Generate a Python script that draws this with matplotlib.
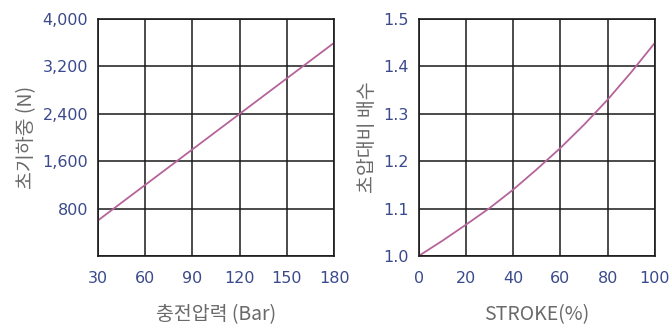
import matplotlib
matplotlib.use("Agg")
import matplotlib.pyplot as plt

plt.rcParams['font.family'] = 'DejaVu Sans'

# left chart: charging pressure vs initial load
pressure = [30, 60, 90, 120, 150, 180]
load = [600, 1200, 1800, 2400, 3000, 3600]
load_ticks = [800, 1600, 2400, 3200, 4000]
load_labels = ["800", "1,600", "2,400", "3,200", "4,000"]

# right chart: stroke vs pressure ratio
stroke = [0, 10, 20, 30, 40, 50, 60, 70, 80, 90, 100]
ratio = [1.0, 1.032, 1.066, 1.101, 1.14, 1.183, 1.228, 1.277, 1.33, 1.388, 1.45]
ratio_ticks = [1.0, 1.1, 1.2, 1.3, 1.4, 1.5]
stroke_ticks = [0, 20, 40, 60, 80, 100]

LINE = "#b5649a"
TICK = "#3b4a8c"
LABEL = "#6a6a6a"
KR = ['Noto Sans CJK KR', 'DejaVu Sans']

fig = plt.figure(figsize=(6.71, 3.29), dpi=100)
ax1 = fig.add_axes([0.146, 0.222, 0.352, 0.720])
ax2 = fig.add_axes([0.624, 0.222, 0.352, 0.720])


def style(ax):
    ax.grid(True, color="#1a1a1a", linewidth=1.1)
    ax.set_axisbelow(True)
    for s in ax.spines.values():
        s.set_color("#1a1a1a")
        s.set_linewidth(1.2)
    ax.tick_params(length=0, labelsize=11.5, labelcolor=TICK)
    ax.tick_params(axis="x", pad=11)
    ax.tick_params(axis="y", pad=7)


ax1.plot(pressure, load, color=LINE, linewidth=1.3)
ax1.set_xlim(30, 180)
ax1.set_ylim(0, 4000)
ax1.set_xticks(pressure)
ax1.set_yticks([0] + load_ticks)
ax1.set_yticklabels([""] + load_labels)
style(ax1)
ax1.set_xlabel("충전압력 (Bar)", fontsize=14, color=LABEL, labelpad=13, family=KR)
ax1.set_ylabel("초기하중 (N)", fontsize=14, color=LABEL, labelpad=4, family=KR)

ax2.plot(stroke, ratio, color=LINE, linewidth=1.3)
ax2.set_xlim(0, 100)
ax2.set_ylim(1.0, 1.5)
ax2.set_xticks(stroke_ticks)
ax2.set_yticks(ratio_ticks)
ax2.set_yticklabels([f"{v:.1f}" for v in ratio_ticks])
style(ax2)
ax2.set_xlabel("STROKE(%)", fontsize=14, color=LABEL, labelpad=13, family=KR)
ax2.set_ylabel("초압대비 배수", fontsize=14, color=LABEL, labelpad=4, family=KR)

fig.savefig("out.png", dpi=100)
